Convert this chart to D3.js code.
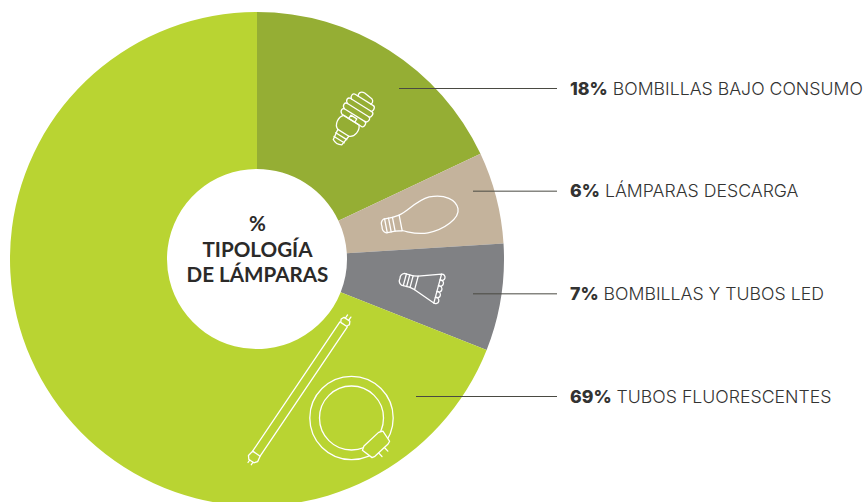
<!DOCTYPE html>
<html>
<head>
<meta charset="utf-8">
<script src="https://cdn.jsdelivr.net/npm/d3@7"></script>
<style>
  body { margin: 0; background: #fff; overflow: hidden; }
  svg { display: block; }
  .icon { fill: none; stroke: #fff; stroke-width: 1.3; stroke-linejoin: round; stroke-linecap: round; }
</style>
</head>
<body>
<div id="graph"></div>
<script>
const categories = ["BOMBILLAS BAJO CONSUMO", "LÁMPARAS DESCARGA", "BOMBILLAS Y TUBOS LED", "TUBOS FLUORESCENTES"];
const values = [18, 6, 7, 69];
const colors = ["#95ae34", "#c4b39c", "#808184", "#b9d432"];
const titleLines = ["%", "TIPOLOGÍA", "DE LÁMPARAS"];

const width = 866;
const height = 502;
const cx = 257;
const cy = 259;
const outerR = 247;
const innerR = 90;
const leaderStart = [399, 473, 473, 416];
const leaderEnd = 557;
const labelX = 570;

const svg = d3.select("#graph")
    .append("svg")
    .attr("width", width)
    .attr("height", height);

const pie = d3.pie().sort(null).value(d => d);
const arc = d3.arc().innerRadius(innerR).outerRadius(outerR);

svg.append("g")
    .attr("transform", `translate(${cx},${cy})`)
    .selectAll("path")
    .data(pie(values))
    .join("path")
    .attr("d", arc)
    .attr("fill", (d, i) => colors[i]);

// labels are evenly spaced down the right side
const y = d3.scalePoint().domain(categories).range([88, 396]);

const leaders = svg.append("g");
leaders.selectAll("line")
    .data(categories)
    .join("line")
    .attr("x1", (d, i) => leaderStart[i])
    .attr("x2", leaderEnd)
    .attr("y1", d => y(d) + 0.5)
    .attr("y2", d => y(d) + 0.5)
    .attr("stroke", "#4a4a42")
    .attr("stroke-width", 1);

const labels = svg.append("g")
    .attr("font-family", "Inter, sans-serif")
    .attr("font-size", 17.7)
    .attr("fill", "#333332");

categories.forEach((c, i) => {
    const t = labels.append("text")
        .attr("x", labelX)
        .attr("y", y(c) + 6.5);
    t.append("tspan").attr("font-weight", 800).text(`${values[i]}%`);
    t.append("tspan").attr("font-weight", 300).text(` ${c}`);
});

svg.append("g")
    .attr("font-family", "Lato, sans-serif")
    .attr("font-weight", 700)
    .attr("font-size", 20.6)
    .attr("fill", "#2b2a29")
    .attr("text-anchor", "middle")
    .selectAll("text")
    .data(titleLines)
    .join("text")
    .attr("x", cx + 0.5)
    .attr("y", (d, i) => 231 + i * 25.5)
    .text(d => d);

// icons, each one drawn upright around its own origin
const icons = svg.append("g").attr("class", "icon");

// spiral low energy bulb
const spiral = icons.append("g").attr("transform", "translate(337,143) rotate(32)");
spiral.append("path").attr("d", "M-5,-1 Q0,2 5,-1 L6.5,-12 L-6.5,-12 Z");
spiral.append("path").attr("d", "M-6,-4 L6,-4 M-6.5,-8 L6.5,-8");
spiral.append("path").attr("d", "M-6.5,-12 C-12,-14 -13,-23 -9,-27 L9,-27 C13,-23 12,-14 6.5,-12");
spiral.append("path").attr("d", "M-3,-27 L-3,-31 L4,-31 L4,-27");
spiral.append("path").attr("d", "M-11,-27 C-15,-29 -14,-33 -11,-33 L12,-33 C15,-33 15,-27 12,-27 Z");
spiral.append("path").attr("d", "M-12,-33 C-16,-35 -15,-39 -12,-39 L13,-39 C16,-39 16,-33 12,-33");
spiral.append("path").attr("d", "M-12,-39 C-16,-41 -15,-45 -12,-45 L13,-45 C16,-45 16,-39 13,-39");
spiral.append("path").attr("d", "M-11,-45 C-14,-47 -13,-51 -10,-51 L11,-51 C14,-51 14,-45 12,-45");
spiral.append("path").attr("d", "M-7,-51 C-9,-55 -6,-57 -3,-57 L6,-56 C9,-55 9,-52 8,-51");

// discharge lamp
const discharge = icons.append("g").attr("transform", "translate(382,226.5) rotate(-11)");
discharge.append("path").attr("d", "M3,-7 Q-1,-5 0,0 Q-1,5 3,7 L12,7 L12,-7 Z");
discharge.append("path").attr("d", "M4,-7 L4,7 M8,-7 L8,7");
discharge.append("path").attr("d", "M12,-7 L19,-8 L19,8 L12,7");
discharge.append("path").attr("d", "M19,-8 C27,-9 38,-19 52,-20 C68,-20 78,-12 78,-3 C78,7 60,15 44,15 C32,15 25,10 19,8");

// led spot
const led = icons.append("g").attr("transform", "translate(400,278.5) rotate(15)");
led.append("path").attr("d", "M3,-6 Q-1,-4 0,0 Q-1,4 3,6 L12,6 L12,-6 Z");
led.append("path").attr("d", "M5,-6 L5,6 M8.5,-6 L8.5,6");
led.append("path").attr("d", "M12,-6 L17,-7 L17,7 L12,6");
led.append("path").attr("d", "M17,-7 L39,-15 L39,15 L17,7");
led.append("path").attr("d", "M39,-15 a3.2,3.2 0 1 1 0,6 a3.2,3.2 0 1 1 0,6 a3.2,3.2 0 1 1 0,6 a3.2,3.2 0 1 1 0,6 a3.2,3.2 0 1 1 0,6");

// straight tube
const tube = icons.append("g").attr("transform", "translate(300,389) rotate(34)");
tube.append("path").attr("d", "M-3.5,-78 L3.5,-78 L5,-81 L3.5,-84 L-3.5,-84 L-5,-81 Z");
tube.append("path").attr("d", "M-4.5,-78 L-4.5,78 M4.5,-78 L4.5,78");
tube.append("path").attr("d", "M-4.5,78 L4.5,78 L5.5,84 L3,87 L-3,87 L-5.5,84 Z");
tube.append("path").attr("d", "M-2,-84 L-2,-88 M2,-84 L2,-88 M-2,87 L-2,90 M2,87 L2,90");

// circular tube with its connector
const ring = icons.append("g").attr("transform", "translate(351.5,418)");
ring.append("circle").attr("r", 41.7);
ring.append("circle").attr("r", 32);
ring.append("g")
    .attr("transform", "rotate(-43) translate(0,37)")
    .call(g => {
        g.append("path")
            .attr("d", "M-14,-6 L-10,-8 L10,-8 L14,-6 L12,6 L9,7 L-9,7 L-12,6 Z")
            .attr("fill", "#b9d432");
        g.append("path").attr("d", "M-4,7 L-4,12 M4,7 L4,12");
    });
</script>
</body>
</html>
